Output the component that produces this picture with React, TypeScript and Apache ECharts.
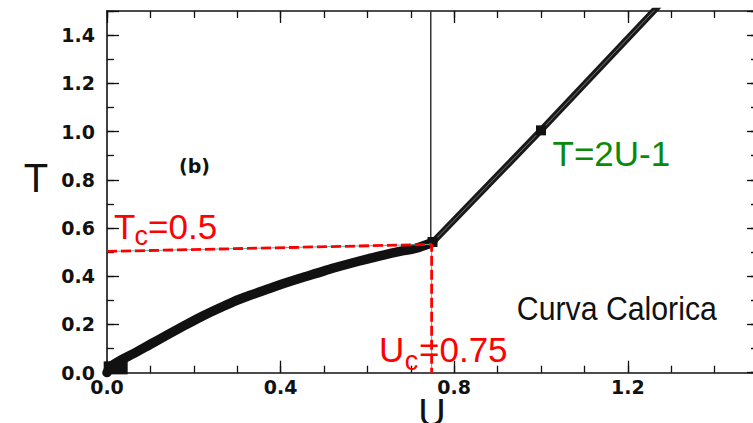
import React, { useEffect, useRef } from "react";
import * as echarts from "echarts";

// Lower branch of the caloric curve (U, T)
const LOWER_U = [0, 0.008, 0.035, 0.062, 0.1, 0.139, 0.177, 0.215, 0.253, 0.292, 0.33, 0.369, 0.407, 0.445, 0.484, 0.522, 0.56, 0.599, 0.637, 0.675, 0.71, 0.75];
const LOWER_T = [0, 0.025, 0.055, 0.08, 0.118, 0.157, 0.194, 0.23, 0.263, 0.295, 0.321, 0.346, 0.37, 0.392, 0.413, 0.434, 0.453, 0.471, 0.488, 0.503, 0.515, 0.54];
// Upper branch T = 2U - 1
const UPPER_U = [0.75, 0.906, 1.0, 1.27];
const UPPER_T = [0.54, 0.83, 1.005, 1.52];
// Square markers on the curve
const MARK_U = [0.75, 1.0];
const MARK_T = [0.542, 1.005];
// Blob at origin
const BLOB_U = [0.02];
const BLOB_T = [0.02];
// Red dashed guide lines (Tc, Uc)
const GUIDE_U = [0, 0.748, 0.748];
const GUIDE_T = [0.503, 0.532, 0];
// Thin black vertical line at Uc
const VLINE_U = [0.746, 0.746];
const VLINE_T = [1.5, 0.55];

const X_LABELS = [0, 0.4, 0.8, 1.2];
const Y_LABELS = [0, 0.2, 0.4, 0.6, 0.8, 1.0, 1.2, 1.4];

const AX = "#111";
const LABEL_FONT = "DejaVu Sans";
const SANS = "Liberation Sans";

const pairs = (u: number[], t: number[]) => u.map((v, i) => [v, t[i]]);
const isLabel = (v: number, list: number[]) => list.some((l) => Math.abs(l - v) < 1e-6);

function xAx(position: string, interval: number, len: number, line: boolean, label: boolean) {
  return {
    type: "value",
    position,
    offset: 0,
    min: 0,
    max: 1.5,
    interval,
    axisLine: { show: line, onZero: false, lineStyle: { color: AX, width: 1.6 } },
    axisTick: { show: true, inside: true, length: len, lineStyle: { color: AX, width: 1.3 } },
    axisLabel: {
      show: label,
      margin: 5,
      color: AX,
      fontFamily: LABEL_FONT,
      fontWeight: "bold",
      fontSize: 19,
      formatter: (v: number) => (isLabel(v, X_LABELS) ? v.toFixed(1) : ""),
    },
    splitLine: { show: false },
  };
}

function yAx(position: string, interval: number, len: number, line: boolean, label: boolean) {
  return {
    type: "value",
    position,
    offset: 0,
    min: 0,
    max: 1.5,
    interval,
    axisLine: { show: line, onZero: false, lineStyle: { color: AX, width: 1.6 } },
    axisTick: { show: true, inside: true, length: len, lineStyle: { color: AX, width: 1.3 } },
    axisLabel: {
      show: label,
      margin: 12,
      color: AX,
      fontFamily: LABEL_FONT,
      fontWeight: "bold",
      fontSize: 19,
      formatter: (v: number) => (isLabel(v, Y_LABELS) ? v.toFixed(1) : ""),
    },
    splitLine: { show: false },
  };
}

function txt(x: number, y: number, text: string, size: number, fill: string, extra: any = {}) {
  return {
    type: "text",
    x,
    y,
    z: 100,
    scaleX: extra.scaleX ?? 1,
    style: {
      text,
      fontSize: size,
      fontFamily: extra.family ?? SANS,
      fontWeight: extra.weight ?? "normal",
      fill,
      align: extra.align ?? "left",
      verticalAlign: "middle",
    },
  };
}

export default function App() {
  const ref = useRef<HTMLDivElement>(null);

  useEffect(() => {
    document.body.style.margin = "0";
    if (!ref.current) return;
    const chart = echarts.init(ref.current, null, { renderer: "svg" });
    const RED = "#ff0000";
    const GREEN = "#0a8a0a";

    chart.setOption({
      animation: false,
      backgroundColor: "#ffffff",
      grid: { left: 107, right: -5, top: 11, bottom: 50.3, containLabel: false, outerBoundsMode: "none" },
      xAxis: [
        xAx("bottom", 0.1, 7, true, true),
        xAx("bottom", 0.4, 12, false, false),
        xAx("top", 0.1, 7, true, false),
        xAx("top", 0.4, 12, false, false),
      ],
      yAxis: [
        yAx("left", 0.1, 7, true, true),
        yAx("left", 0.2, 12, false, false),
        yAx("right", 0.1, 7, true, false),
        yAx("right", 0.2, 11, false, false),
      ],
      series: [
        {
          type: "line",
          name: "vertical",
          data: pairs(VLINE_U, VLINE_T),
          showSymbol: false,
          lineStyle: { color: "#333", width: 1.5 },
          z: 2,
        },
        {
          type: "line",
          name: "lower",
          data: pairs(LOWER_U, LOWER_T),
          smooth: 0.3,
          showSymbol: false,
          lineStyle: { color: "#111", width: 9.5, cap: "round", join: "round" },
          z: 3,
        },
        {
          type: "line",
          name: "upper",
          data: pairs(UPPER_U, UPPER_T),
          showSymbol: false,
          lineStyle: { color: "#1a1a1a", width: 6.5, cap: "round", join: "round" },
          z: 3,
        },
        {
          type: "line",
          name: "upperInner",
          data: pairs(UPPER_U, UPPER_T),
          showSymbol: false,
          lineStyle: { color: "#777", width: 1 },
          z: 4,
        },
        {
          type: "scatter",
          name: "marks",
          data: pairs(MARK_U, MARK_T),
          symbol: "rect",
          symbolSize: 10,
          itemStyle: { color: "#111", opacity: 1 },
          z: 5,
        },
        {
          type: "scatter",
          name: "blob",
          data: pairs(BLOB_U, BLOB_T),
          symbol: "rect",
          symbolSize: [24, 13],
          itemStyle: { color: "#111", opacity: 1 },
          z: 5,
        },
        {
          type: "line",
          name: "guideTeal",
          data: pairs(GUIDE_U, GUIDE_T),
          showSymbol: false,
          lineStyle: { color: "#46b7a5", width: 1 },
          z: 6,
        },
        {
          type: "line",
          name: "guideRed",
          data: pairs(GUIDE_U, GUIDE_T),
          showSymbol: false,
          lineStyle: { color: RED, width: 2.8, type: [10, 4] },
          z: 7,
        },
      ],
      graphic: [
        txt(36, 178, "T", 40, "#111", { align: "center" }),
        txt(432, 413, "U", 38, "#111", { align: "center" }),
        txt(194.5, 166, "(b)", 19, "#111", { align: "center", family: LABEL_FONT, weight: "bold" }),
        // Tc = 0.5
        txt(114, 226.2, "T", 35, RED),
        txt(134.5, 236.3, "c", 27, RED),
        txt(148, 226.2, "=0.5", 35, RED),
        // Uc = 0.75
        txt(379, 349.6, "U", 35, RED),
        txt(404.8, 360.8, "c", 27, RED),
        txt(419, 349.6, "=0.75", 35, RED),
        txt(552.5, 153.9, "T=2U-1", 35, GREEN),
        txt(516.8, 308.2, "Curva Calorica", 34, "#111", { scaleX: 0.89 }),
      ],
    });

    return () => chart.dispose();
  }, []);

  return <div ref={ref} style={{ width: 753, height: 423 }} />;
}
